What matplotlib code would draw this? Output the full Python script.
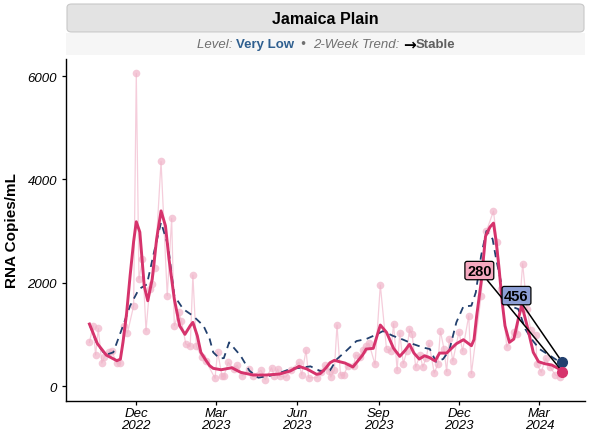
import matplotlib.pyplot as plt
import matplotlib.dates as mdates
from matplotlib.patches import FancyBboxPatch, Rectangle
import pandas as pd

plt.rcParams['font.family'] = ['Liberation Sans', 'DejaVu Sans']

# raw samples
raw_dates = ['2022-10-09', '2022-10-13', '2022-10-16', '2022-10-19', '2022-10-23', '2022-10-26',
             '2022-10-31', '2022-11-03', '2022-11-09', '2022-11-13', '2022-11-17', '2022-11-21',
             '2022-11-28', '2022-12-01', '2022-12-04', '2022-12-08', '2022-12-12', '2022-12-16',
             '2022-12-19', '2022-12-22', '2022-12-29', '2023-01-05', '2023-01-10', '2023-01-13',
             '2023-01-18', '2023-01-21', '2023-01-26', '2023-01-31', '2023-02-03', '2023-02-07',
             '2023-02-13', '2023-02-18', '2023-02-28', '2023-03-03', '2023-03-08', '2023-03-10',
             '2023-03-15', '2023-03-21', '2023-03-25', '2023-03-31', '2023-04-07', '2023-04-12',
             '2023-04-21', '2023-04-26', '2023-05-03', '2023-05-06', '2023-05-10', '2023-05-12',
             '2023-05-19', '2023-05-25', '2023-06-03', '2023-06-06', '2023-06-11', '2023-06-14',
             '2023-06-23', '2023-06-28', '2023-07-02', '2023-07-07', '2023-07-09', '2023-07-13',
             '2023-07-16', '2023-07-20', '2023-07-24', '2023-07-28', '2023-08-04', '2023-08-06',
             '2023-08-11', '2023-08-14', '2023-08-18', '2023-08-21', '2023-08-28', '2023-09-03',
             '2023-09-10', '2023-09-15', '2023-09-18', '2023-09-22', '2023-09-25', '2023-09-29',
             '2023-10-03', '2023-10-06', '2023-10-09', '2023-10-13', '2023-10-18', '2023-10-21',
             '2023-10-25', '2023-10-28', '2023-11-03', '2023-11-07', '2023-11-10', '2023-11-14',
             '2023-11-17', '2023-11-20', '2023-11-24', '2023-12-01', '2023-12-05', '2023-12-12',
             '2023-12-15', '2023-12-26', '2024-01-01', '2024-01-09', '2024-01-13', '2024-01-18',
             '2024-01-24', '2024-02-01', '2024-02-05', '2024-02-11', '2024-02-16', '2024-02-20',
             '2024-02-26', '2024-02-27', '2024-03-03', '2024-03-08', '2024-03-13', '2024-03-19',
             '2024-03-24', '2024-03-27']
raw_vals = [845, 1167, 600, 1116, 445, 567,
            664, 677, 445, 445, 1167, 1025,
            1554, 6050, 2070, 2457, 1070, 1877,
            1980, 2277, 4348, 1747, 3245, 1167,
            1426, 1264, 813, 768, 2148, 768,
            555, 478, 149, 664, 188, 188,
            459, 329, 406, 199, 329, 199,
            304, 122, 354, 199, 329, 188,
            174, 315, 459, 213, 691, 161,
            161, 265, 400, 290, 174, 304,
            1180, 213, 213, 393, 393, 600,
            561, 703, 768, 832, 420, 1954,
            716, 677, 1206, 304, 1025, 432,
            677, 1103, 1000, 368, 600, 368,
            548, 832, 252, 420, 1064, 716,
            277, 909, 484, 1051, 677, 1360,
            238, 1747, 3000, 3386, 2792, 1877,
            755, 1039, 1012, 2367, 1490, 1090,
            987, 432, 265, 536, 368, 213,
            174, 250]

# smoothed trend
smooth_dates = ['2022-10-09', '2022-10-18', '2022-10-28', '2022-11-09', '2022-11-13', '2022-11-16',
                '2022-11-20', '2022-11-24', '2022-11-28', '2022-12-01', '2022-12-05', '2022-12-10',
                '2022-12-14', '2022-12-19', '2022-12-24', '2022-12-29', '2023-01-03', '2023-01-07',
                '2023-01-13', '2023-01-19', '2023-01-25', '2023-01-31', '2023-02-03', '2023-02-08',
                '2023-02-12', '2023-02-18', '2023-02-22', '2023-02-26', '2023-03-07', '2023-03-19',
                '2023-03-29', '2023-04-12', '2023-04-27', '2023-05-12', '2023-05-24', '2023-06-03',
                '2023-06-12', '2023-06-23', '2023-06-27', '2023-07-01', '2023-07-04', '2023-07-08',
                '2023-07-13', '2023-07-19', '2023-07-25', '2023-08-03', '2023-08-14', '2023-08-18',
                '2023-08-26', '2023-09-03', '2023-09-10', '2023-09-18', '2023-09-25', '2023-10-01',
                '2023-10-06', '2023-10-11', '2023-10-17', '2023-10-23', '2023-10-29', '2023-11-04',
                '2023-11-09', '2023-11-17', '2023-11-28', '2023-12-06', '2023-12-15', '2023-12-18',
                '2023-12-21', '2023-12-26', '2023-12-31', '2024-01-05', '2024-01-09', '2024-01-12',
                '2024-01-15', '2024-01-19', '2024-01-22', '2024-01-27', '2024-02-01', '2024-02-06',
                '2024-02-10', '2024-02-16', '2024-02-23', '2024-02-29', '2024-03-07', '2024-03-15',
                '2024-03-22', '2024-03-27']
smooth_vals = [1200, 820, 600, 490, 520, 850,
               1400, 2134, 2800, 3180, 2980, 1935,
               1650, 2070, 2845, 3390, 3100, 2457,
               1683, 1167, 1000, 1167, 1232, 973,
               652, 490, 393, 342, 315, 354,
               265, 213, 213, 232, 290, 381,
               329, 226, 240, 304, 361, 450,
               497, 470, 445, 368, 600, 716,
               729, 1180, 1039, 729, 574, 690,
               807, 638, 522, 586, 548, 484,
               638, 638, 819, 896, 780, 900,
               1360, 2006, 2900, 3077, 3154, 2800,
               2328, 1600, 1167, 845, 909, 1296,
               1567, 1167, 652, 470, 432, 406,
               342, 280]

# 2-week average (dashed)
avg_dates = ['2022-10-09', '2022-10-17', '2022-10-27', '2022-11-05', '2022-11-16', '2022-11-24',
             '2022-12-04', '2022-12-13', '2022-12-21', '2022-12-29', '2023-01-06', '2023-01-13',
             '2023-01-23', '2023-02-03', '2023-02-15', '2023-02-22', '2023-02-26', '2023-03-05',
             '2023-03-10', '2023-03-16', '2023-03-29', '2023-04-08', '2023-04-18', '2023-05-01',
             '2023-05-12', '2023-05-24', '2023-06-05', '2023-06-16', '2023-06-27', '2023-07-08',
             '2023-07-16', '2023-07-27', '2023-08-07', '2023-08-18', '2023-08-30', '2023-09-06',
             '2023-09-17', '2023-09-29', '2023-10-10', '2023-10-22', '2023-10-29', '2023-11-05',
             '2023-11-13', '2023-11-20', '2023-11-28', '2023-12-06', '2023-12-15', '2023-12-20',
             '2023-12-26', '2024-01-01', '2024-01-08', '2024-01-12', '2024-01-20', '2024-01-27',
             '2024-02-06', '2024-02-14', '2024-02-21', '2024-03-01', '2024-03-13', '2024-03-21',
             '2024-03-27']
avg_vals = [1200, 845, 600, 652, 1167, 1554,
            1877, 1967, 2587, 3167, 2715, 1747,
            1490, 1360, 1167, 909, 652, 536,
            540, 845, 586, 296, 161, 199,
            252, 329, 354, 381, 290, 300,
            522, 690, 870, 909, 1000, 1064,
            973, 896, 813, 742, 716, 470,
            522, 690, 1232, 1541, 1554, 1812,
            2522, 3000, 2845, 2457, 1812, 1554,
            1490, 1103, 909, 716, 587, 497,
            456]

last_smooth = 280
last_avg = 456
title = 'Jamaica Plain'

raw_d = pd.to_datetime(raw_dates)
smooth_d = pd.to_datetime(smooth_dates)
avg_d = pd.to_datetime(avg_dates)

fig = plt.figure(figsize=(5.9, 4.35), dpi=100)
ax = fig.add_axes([66 / 590, 1 - 402 / 435, (585 - 66) / 590, (402 - 60) / 435])

pink = '#f0b3c8'
crimson = '#d6336c'
navy = '#22406e'

ax.plot(raw_d, raw_vals, color=pink, lw=0.9, alpha=0.65, zorder=1)
ax.plot(raw_d, raw_vals, 'o', color=pink, ms=5.5, alpha=0.7, mec='none', zorder=1)
ax.plot(avg_d, avg_vals, color=navy, lw=1.3, dashes=(4, 3), zorder=2)
ax.plot(smooth_d, smooth_vals, color=crimson, lw=2.1, zorder=3, solid_joinstyle='round')

end = pd.Timestamp('2024-03-27')
ax.annotate(str(last_smooth), xy=(end, last_smooth), xytext=(pd.Timestamp('2023-12-24'), 2235),
            ha='center', va='center', fontsize=10.5, fontweight='bold',
            bbox=dict(boxstyle='round,pad=0.15', fc='#f6a9c0', ec='black', lw=0.9),
            arrowprops=dict(arrowstyle='-', color='black', lw=1.1, shrinkA=0, shrinkB=3), zorder=5)
ax.annotate(str(last_avg), xy=(end, last_avg), xytext=(pd.Timestamp('2024-02-04'), 1750),
            ha='center', va='center', fontsize=10.5, fontweight='bold',
            bbox=dict(boxstyle='round,pad=0.15', fc='#8d9fd5', ec='black', lw=0.9),
            arrowprops=dict(arrowstyle='-', color='black', lw=1.1, shrinkA=0, shrinkB=3), zorder=5)
ax.plot([end], [last_avg], 'o', color=navy, ms=7, zorder=6)
ax.plot([end], [last_smooth], 'o', color=crimson, ms=7, zorder=6)

ax.set_xlim(pd.Timestamp('2022-09-12 12:00'), pd.Timestamp('2024-04-21 12:00'))
ax.set_ylim(-290, 6330)
ax.set_yticks([0, 2000, 4000, 6000])
ax.xaxis.set_major_locator(mdates.MonthLocator(bymonth=[3, 6, 9, 12]))
ax.xaxis.set_major_formatter(mdates.DateFormatter('%b\n%Y'))
for s in ['top', 'right']:
    ax.spines[s].set_visible(False)
for s in ['left', 'bottom']:
    ax.spines[s].set_linewidth(1.0)
ax.tick_params(length=3, width=0.9, labelsize=9.5)
ax.tick_params(axis='x', pad=1.5)
for lab in ax.get_xticklabels() + ax.get_yticklabels():
    lab.set_fontstyle('italic')
for lab in ax.get_xticklabels():
    lab.set_linespacing(0.95)
ax.set_ylabel('RNA Copies/mL', fontsize=11, fontweight='bold', labelpad=6)

# header strip
fig.patches.append(FancyBboxPatch((67 / 590, 1 - 33 / 435), (584 - 67) / 590, 28 / 435,
                                  boxstyle='round,pad=0,rounding_size=0.008',
                                  transform=fig.transFigure, fc='#e3e3e3', ec='#c8c8c8', lw=0.8))
fig.patches.append(Rectangle((66 / 590, 1 - 56 / 435), (585 - 66) / 590, 22 / 435,
                             transform=fig.transFigure, fc='#f6f6f6', ec='none'))
fig.text(325 / 590, 1 - 19 / 435, title, ha='center', va='center', fontsize=11.5, fontweight='bold')

# subtitle pieces
pieces = [('Level: ', 'italic', 'normal', '#707070', 9.5),
          ('Very Low', 'normal', 'bold', '#2f5f8f', 9.5),
          ('  \u2022  ', 'normal', 'normal', '#707070', 9.5),
          ('2-Week Trend: ', 'italic', 'normal', '#707070', 9.5),
          ('\u2192', 'normal', 'bold', 'black', 11),
          ('Stable', 'normal', 'bold', '#606060', 9.5)]
fig.canvas.draw()
r = fig.canvas.get_renderer()
texts = []
for s, st, wt, c, fs in pieces:
    fam = ['DejaVu Sans'] if s == '\u2192' else ['Liberation Sans', 'DejaVu Sans']
    t = fig.text(0, 1 - 45 / 435, s, ha='left', va='center', fontsize=fs, style=st,
                 fontweight=wt, color=c, family=fam)
    texts.append(t)
widths = []
for t in texts:
    bb = t.get_window_extent(renderer=r)
    widths.append(bb.width / fig.bbox.width)
x = 326 / 590 - sum(widths) / 2
for t, w in zip(texts, widths):
    t.set_x(x)
    x += w

fig.savefig('out.png', dpi=100)
